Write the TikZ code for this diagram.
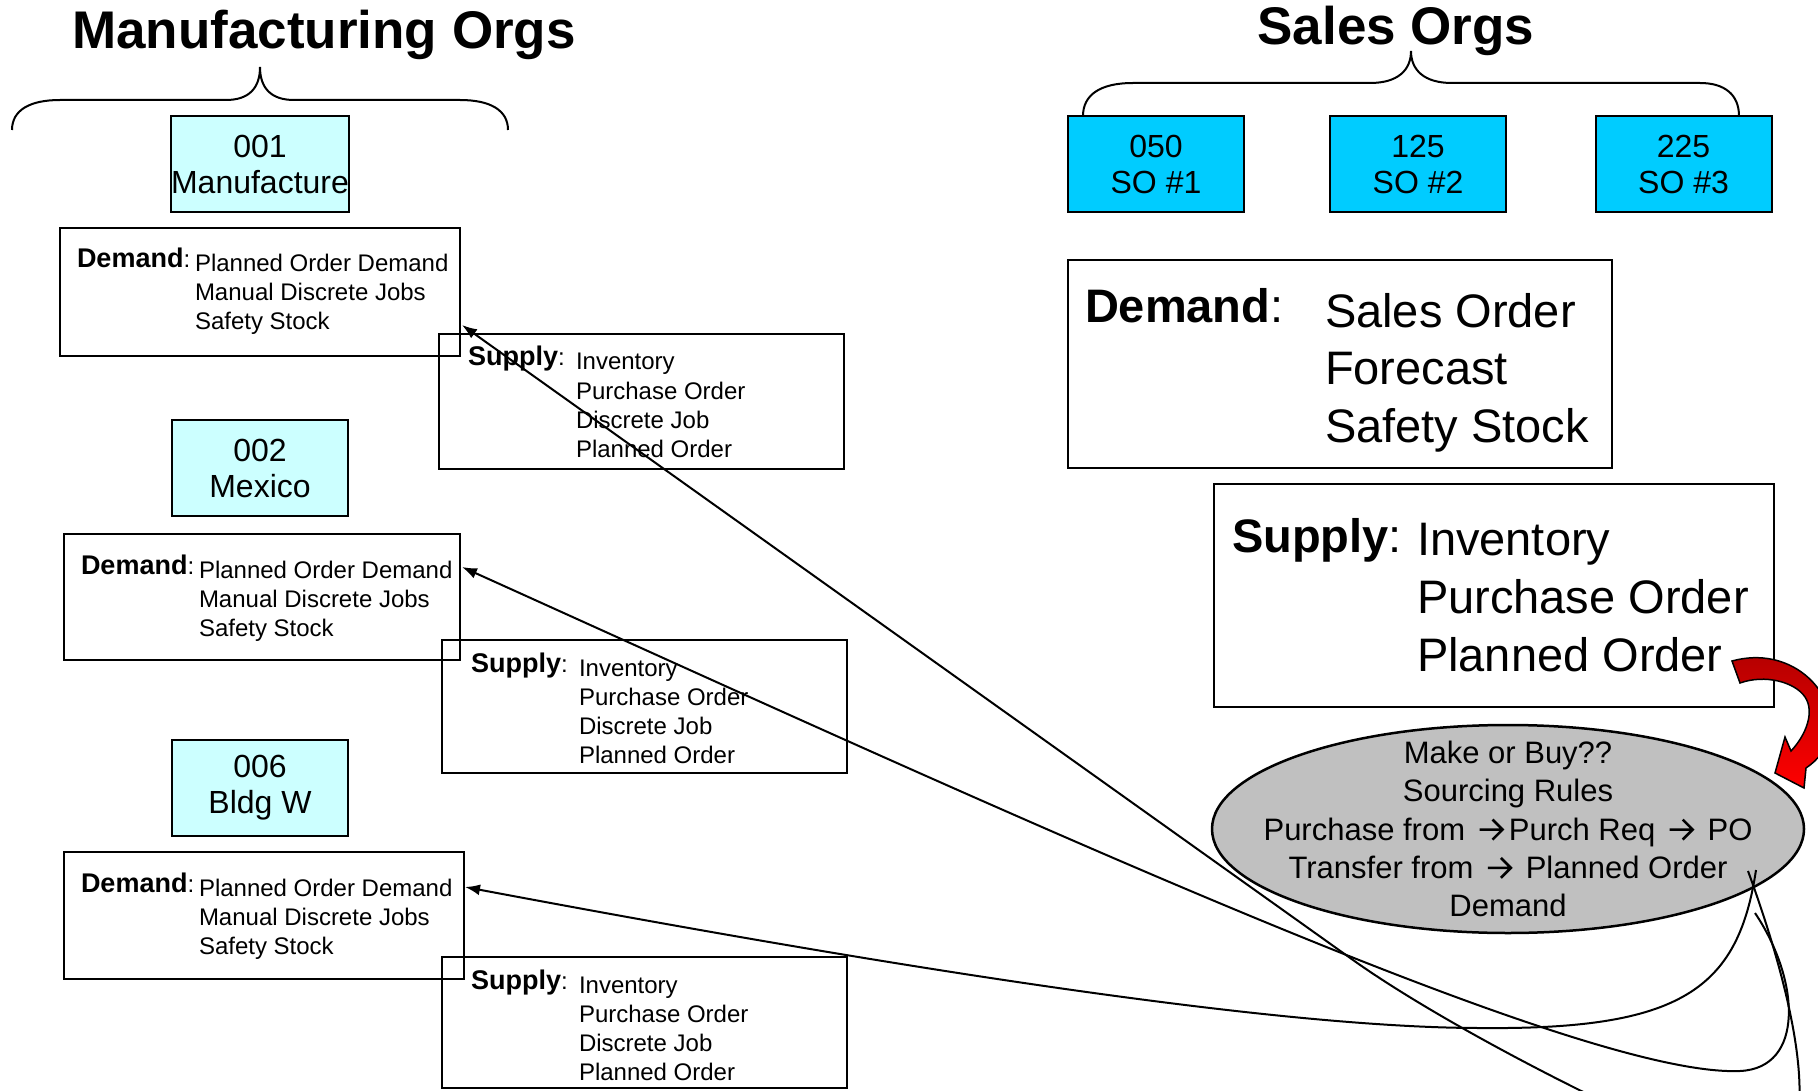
\documentclass[tikz,border=0pt]{standalone}
\usepackage{fontspec}
\setmainfont{Liberation Sans}
\usetikzlibrary{shapes.geometric,arrows.meta,calc}
\definecolor{lcyan}{HTML}{CCFFFF}
\definecolor{scyan}{HTML}{00CCFF}
\definecolor{egray}{HTML}{C0C0C0}
\definecolor{dred}{HTML}{B00000}
\newcommand\fsm{\fontsize{24}{29}\selectfont}
\newcommand\fsmb{\fontsize{27}{29}\selectfont\bfseries}
\newcommand\fbig{\fontsize{47}{57.5}\selectfont}
% inline arrow as in the sourcing-rules text
\newcommand\rar{\hspace{4.5pt}\tikz[baseline=0pt,x=1pt,y=1pt]{\draw[line width=2.6pt, line join=miter]
  (0pt,10.5pt) -- (23pt,10.5pt) (13pt,0.5pt) -- (23pt,10.5pt) -- (13pt,20.5pt);}\hspace{5pt}}
% name, x, y, w, h
\newcommand\mfgdemand[5]{%
  \node[box, minimum width=#4pt, minimum height=#5pt] (#1) at (#2,#3) {};
  \node[tx] (#1h) at ($(#1.north west)+(17,40)$) {{\fsmb Demand}{\fsm :}};
  \foreach \s [count=\i from 0] in {Planned Order Demand,Manual Discrete Jobs,Safety Stock}
    \node[tx, font=\fsm] (#1l\i) at ($(#1.north west)+(135,{44+\i*29})$) {\s};
}
\newcommand\mfgsupply[5]{%
  \node[box, minimum width=#4pt, minimum height=#5pt] (#1) at (#2,#3) {};
  \node[tx] (#1h) at ($(#1.north west)+(29,32)$) {{\fsmb Supply}{\fsm :}};
  \foreach \s [count=\i from 0] in {Inventory,Purchase Order,Discrete Job,Planned Order}
    \node[tx, font=\fsm] (#1l\i) at ($(#1.north west)+(137,{36+\i*29})$) {\s};
}
\begin{document}
\begin{tikzpicture}[x=1pt,y=-1pt,
  box/.style={draw, line width=2pt, inner sep=0pt, outer sep=0pt, anchor=north west},
  tx/.style={anchor=base west, inner sep=0pt, outer sep=0pt},
  conn/.style={line width=2pt, -{Latex[length=15pt,width=11pt]}},
  bracepath/.style={line width=2pt},
  org/.style={draw, line width=2pt, inner sep=0pt, outer sep=0pt, minimum width=176pt,
    minimum height=96pt, align=center, font=\fontsize{32}{36}\selectfont},
  ttl/.style={anchor=base, inner sep=0pt, font=\fontsize{53}{60}\selectfont\bfseries},
]
\useasboundingbox (0,0) rectangle (1818,1091);
\clip (0,0) rectangle (1818,1091);

% titles
\node[ttl] (mtitle) at (324,48.5) {Manufacturing Orgs};
\node[ttl] (stitle) at (1396,45) {Sales Orgs};

% braces
\draw[bracepath] (12,130) .. controls (12,110) and (30,100) .. (60,100) -- (226,100)
  .. controls (249,100) and (260,88) .. (260,67)
  .. controls (260,88) and (271,100) .. (294,100) -- (460,100)
  .. controls (490,100) and (508,110) .. (508,130);
\draw[bracepath] (1083,116) .. controls (1083,95) and (1100,83) .. (1133,83) -- (1370,83)
  .. controls (1398,83) and (1411,70) .. (1411,51)
  .. controls (1411,70) and (1424,83) .. (1452,83) -- (1700,83)
  .. controls (1725,83) and (1739,95) .. (1739,116);

% org boxes
\node[org, fill=lcyan] (o001) at (260,164) {001\\Manufacture};
\node[org, fill=lcyan] (o002) at (260,468) {002\\Mexico};
\node[org, fill=lcyan] (o006) at (260,788) {006\\Bldg W};
\node[org, fill=scyan] (o050) at (1156,164) {050\\SO \#1};
\node[org, fill=scyan] (o125) at (1418,164) {125\\SO \#2};
\node[org, fill=scyan] (o225) at (1683.5,164) {225\\SO \#3};

% manufacturing demand / supply boxes
\mfgdemand{d1}{60}{228}{400}{128}
\mfgsupply{s1}{439}{334}{405}{135}
\mfgdemand{d2}{64}{534}{396}{126}
\mfgsupply{s2}{442}{640}{405}{133}
\mfgdemand{d3}{64}{852}{400}{127}
\mfgsupply{s3}{442}{957}{405}{131}

% sales demand / supply
\node[box, line width=2.3pt, minimum width=544pt, minimum height=208pt] (bd) at (1068,260) {};
\node[tx, font=\fbig] (bdh) at ($(bd.north west)+(17,63)$) {\textbf{Demand}:};
\foreach \s [count=\i from 0] in {Sales Order,Forecast,Safety Stock}
  \node[tx, font=\fbig] (bdl\i) at ($(bd.north west)+(257,{67+\i*57.5})$) {\s};
\node[box, line width=2.3pt, minimum width=560pt, minimum height=223pt] (bs) at (1214,484) {};
\node[tx, font=\fbig] (bsh) at ($(bs.north west)+(18,68)$) {\textbf{Supply}:};
\foreach \s [count=\i from 0] in {Inventory,Purchase Order,Planned Order}
  \node[tx, font=\fbig] (bsl\i) at ($(bs.north west)+(203,{71+\i*58})$) {\s};

% ellipse
\node[ellipse, draw, line width=2.5pt, fill=egray, minimum width=592pt, minimum height=208pt,
  inner sep=0pt] (ell) at (1508,829) {};
\node[align=center, inner sep=0pt, font=\fontsize{31}{38.3}\selectfont] (elltext) at (ell.center)
  {Make or Buy??\\Sourcing Rules\\Purchase from \rar{}Purch Req \rar{} PO\\Transfer from \rar{} Planned Order\\Demand};

% connector ends
\coordinate (t1) at ($(d1.north east)+(2,97)$);
\coordinate (t2) at ($(d2.north east)+(2,33)$);
\coordinate (t3) at ($(d3.north east)+(1,35)$);
\coordinate (e1) at ($(ell.center)+(240,42)$);
\coordinate (e2) at ($(ell.center)+(247,84)$);
\coordinate (e3) at ($(ell.center)+(248,41)$);

\draw[conn] (e1) .. controls (1795,1000) and (1830,1150) .. (1760,1170)
  .. controls (1650,1130) and (1453,1031) .. (1353,960) -- (t1);
\draw[conn] (e2) .. controls (1800,980) and (1805,1068) .. (1740,1071)
  .. controls (1580,1078) and (1000,810) .. (t2);
\draw[conn] (e3) .. controls (1738,990) and (1680,1030) .. (1480,1028)
  .. controls (1250,1028) and (800,950) .. (t3);

% red curved block arrow
\draw[line width=1.5pt, top color=dred, bottom color=red]
  (1732,661) .. controls (1790,645) and (1835,690) .. (1830,730)
  .. controls (1828,748) and (1818,760) .. (1806,768)
  -- (1804,788) -- (1775,773) -- (1785,737) -- (1791,751)
  .. controls (1806,735) and (1815,712) .. (1805,697)
  .. controls (1795,682) and (1765,674) .. (1740,683) -- cycle;
\end{tikzpicture}
\end{document}
